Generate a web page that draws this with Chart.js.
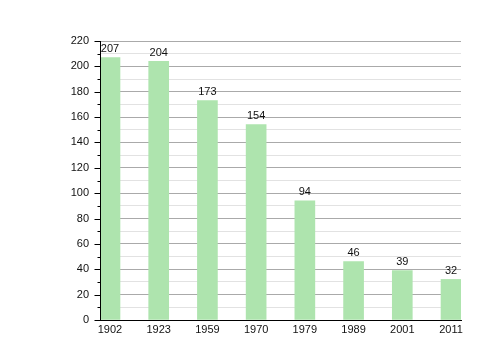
<!DOCTYPE html>
<html><head><meta charset="utf-8">
<script src="https://cdn.jsdelivr.net/npm/chart.js@4/dist/chart.umd.min.js"></script>
<style>html,body{margin:0;padding:0;background:#fff}#c{display:block}</style>
</head><body>
<canvas id="c" width="500" height="360"></canvas>
<script>
const years = ["1902","1923","1959","1970","1979","1989","2001","2011"];
const population = [207, 204, 173, 154, 94, 46, 39, 32];
const yTicks = [0, 20, 40, 60, 80, 100, 120, 140, 160, 180, 200, 220];

const FONT = "'Liberation Sans', Arial, sans-serif";

const valueLabels = {
  id: 'valueLabels',
  afterDatasetsDraw(chart) {
    const ctx = chart.ctx;
    const meta = chart.getDatasetMeta(0);
    ctx.save();
    ctx.font = "11px " + FONT;
    ctx.fillStyle = "#111";
    ctx.textAlign = "center";
    ctx.textBaseline = "bottom";
    meta.data.forEach((bar, i) => {
      ctx.fillText(String(population[i]), bar.x, bar.y - 3);
    });
    ctx.restore();
  }
};

const axisOverlay = {
  id: 'axisOverlay',
  afterDraw(chart) {
    const ctx = chart.ctx;
    const s = chart.scales.y;
    const a = chart.chartArea;
    ctx.save();
    ctx.strokeStyle = "#000";
    ctx.lineWidth = 1;
    const xl = Math.round(a.left) + 0.5;
    const yb = Math.round(a.bottom) + 0.5;
    ctx.beginPath();
    ctx.moveTo(xl, a.top);
    ctx.lineTo(xl, yb);
    ctx.lineTo(a.right, yb);
    ctx.stroke();
    s.ticks.forEach(t => {
      const y = Math.round(s.getPixelForValue(t.value)) + 0.5;
      const len = (t.value % 20 === 0) ? 6 : 3;
      ctx.beginPath();
      ctx.moveTo(xl - len, y);
      ctx.lineTo(xl, y);
      ctx.stroke();
    });
    ctx.restore();
  }
};

new Chart(document.getElementById('c'), {
  type: 'bar',
  data: {
    datasets: [{
      data: population.map((v, i) => ({x: i, y: v})),
      backgroundColor: 'rgb(174,228,174)',
      borderWidth: 0,
      barThickness: 20
    }]
  },
  options: {
    responsive: false,
    animation: false,
    layout: { padding: { left: 0, right: 39, top: 41, bottom: 0 } },
    plugins: { legend: { display: false }, tooltip: { enabled: false } },
    scales: {
      x: {
        type: 'linear',
        offset: false,
        min: -0.205,
        max: 7.205,
        afterBuildTicks(scale) { scale.ticks = years.map((_, i) => ({value: i})); },
        afterFit(scale) { scale.height = 40; },
        grid: { display: false, drawTicks: false, offset: false },
        border: { color: '#000', width: 1 },
        ticks: {
          padding: 3,
          color: '#111',
          font: { family: FONT, size: 11 },
          maxRotation: 0,
          autoSkip: false,
          callback: (v) => years[v] ?? ''
        }
      },
      y: {
        min: 0,
        max: 220,
        afterBuildTicks(scale) {
          const t = [];
          for (let k = 0; k < yTicks.length; k++) {
            t.push({value: yTicks[k]});
            if (k < yTicks.length - 1) t.push({value: (yTicks[k] + yTicks[k+1]) / 2});
          }
          scale.ticks = t;
        },
        afterFit(scale) { scale.width = 100; },
        grid: {
          drawTicks: false,
          color: (c) => (c.tick && c.tick.value % 20 === 0) ? '#aaaaaa' : '#e2e2e2',
          lineWidth: 1
        },
        border: { color: '#000', width: 1 },
        ticks: {
          padding: 11,
          color: '#111',
          font: { family: FONT, size: 11 },
          autoSkip: false,
          callback: (v) => (v % 20 === 0) ? String(v) : ''
        }
      }
    }
  },
  plugins: [valueLabels, axisOverlay]
});
</script>
</body></html>
